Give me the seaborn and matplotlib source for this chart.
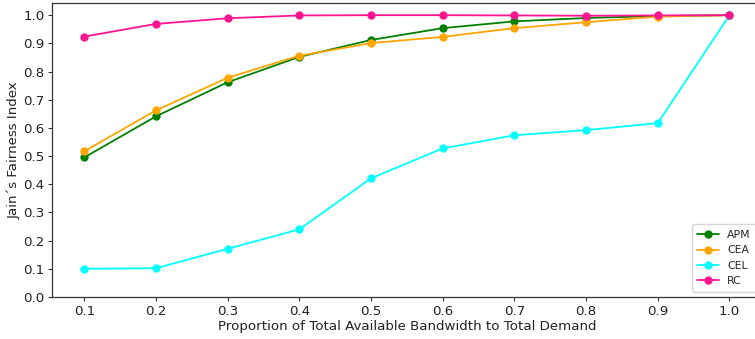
import matplotlib
matplotlib.use("Agg")
import matplotlib.pyplot as plt
import seaborn as sns
import pandas as pd

x_vals = [0.1, 0.2, 0.3, 0.4, 0.5, 0.6, 0.7, 0.8, 0.9, 1.0]
apm = [0.495, 0.641, 0.762, 0.852, 0.912, 0.954, 0.978, 0.990, 0.997, 1.0]
cea = [0.517, 0.662, 0.778, 0.856, 0.901, 0.923, 0.954, 0.975, 0.995, 1.0]
cel = [0.100, 0.102, 0.171, 0.240, 0.421, 0.527, 0.574, 0.592, 0.617, 1.0]
rc = [0.924, 0.969, 0.989, 0.999, 1.0, 1.0, 0.999, 0.998, 0.999, 1.0]
series_names = ["APM", "CEA", "CEL", "RC"]
colors = ["green", "orange", "cyan", "deeppink"]

rows = []
for name, vals in zip(series_names, [apm, cea, cel, rc]):
    for xv, yv in zip(x_vals, vals):
        rows.append({"x": xv, "y": yv, "method": name})
df = pd.DataFrame(rows)

sns.set_style("ticks")
plt.rcParams["font.family"] = ["DejaVu Sans"]

fig = plt.figure(figsize=(7.55, 3.39), dpi=100)
ax = fig.add_axes([0.0689, 0.124, 0.940, 0.867])

sns.lineplot(data=df, x="x", y="y", hue="method", palette=colors,
             marker="o", markersize=6, markeredgewidth=0, linewidth=1.3,
             ax=ax, legend=True)

ax.set_xlim(0.055, 1.045)
ax.set_ylim(0, 1.043)
ax.set_xticks(x_vals)
ax.set_xticklabels([f"{v:.1f}" for v in x_vals])
ax.set_yticks([i / 10 for i in range(11)])
ax.set_yticklabels([f"{i/10:.1f}" for i in range(11)])
ax.tick_params(labelsize=9.6, length=3, width=0.8, pad=2.5,
               color="#333333", labelcolor="#222222")
ax.set_xlabel("Proportion of Total Available Bandwidth to Total Demand",
              fontsize=9.6, color="#222222", labelpad=2)
ax.set_ylabel("Jain\u00b4s Fairness Index", fontsize=9.6, color="#222222", labelpad=2)
for s in ax.spines.values():
    s.set_color("#333333")
    s.set_linewidth(0.9)

leg = ax.legend(loc="lower right", bbox_to_anchor=(1.0, 0.0), fontsize=7.8,
                frameon=True, handlelength=2.0, borderpad=0.5, labelspacing=0.5)
leg.get_frame().set_edgecolor("#cccccc")

fig.savefig("out.png", dpi=100)
